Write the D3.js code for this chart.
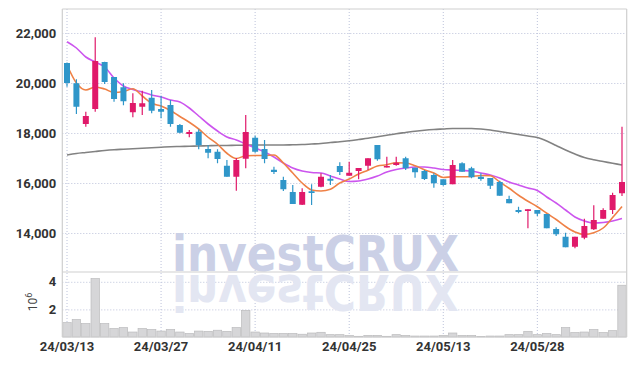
<!DOCTYPE html>
<html>
<head>
<meta charset="utf-8">
<script src="https://cdn.jsdelivr.net/npm/d3@7"></script>
<style>
  html, body { margin: 0; padding: 0; background: #fff; }
  svg { display: block; }
</style>
</head>
<body>
<div id="chart"></div>
<script>
const dates = [
  "24/03/13","24/03/14","24/03/15","24/03/18","24/03/19","24/03/20","24/03/21","24/03/22","24/03/25","24/03/26",
  "24/03/27","24/03/28","24/03/29","24/04/01","24/04/02","24/04/03","24/04/04","24/04/05","24/04/08","24/04/09",
  "24/04/11","24/04/12","24/04/15","24/04/16","24/04/17","24/04/18","24/04/19","24/04/22","24/04/23","24/04/24",
  "24/04/25","24/04/26","24/04/29","24/04/30","24/05/02","24/05/03","24/05/07","24/05/08","24/05/09","24/05/10",
  "24/05/13","24/05/14","24/05/16","24/05/17","24/05/20","24/05/21","24/05/22","24/05/23","24/05/24","24/05/27",
  "24/05/28","24/05/29","24/05/30","24/05/31","24/06/03","24/06/04","24/06/05","24/06/07","24/06/10","24/06/11"
];
const opens = [
  20800,19990,18360,18960,20840,20240,19830,18830,19050,19410,
  18960,19120,18320,17960,18050,17360,17250,16690,16250,16970,
  17810,17360,16530,16120,15640,15130,15670,15850,16170,16680,
  16290,16480,16690,17520,16640,16720,16990,16610,16480,16320,
  16150,15950,16790,16590,16250,16200,16040,15360,14920,14880,
  14920,14760,14160,13850,13450,13810,14150,14570,14920,15590
];
const highs = [
  20820,20150,18850,21830,20850,20240,19990,19590,19690,19720,
  19490,19320,18360,18120,18150,17520,17350,16920,17000,18720,
  17890,17720,16650,16250,15920,15790,15950,16390,16320,16830,
  16850,16600,16990,17520,17050,17050,17050,16610,16520,16390,
  16150,16920,16830,16650,16390,16200,16090,15490,15050,14950,
  14920,14760,14230,14010,13850,14570,15110,14990,15610,18250
];
const lows = [
  19850,18760,18250,18850,19960,19250,19110,18630,18720,18790,
  18590,18250,17990,17830,17350,16990,16790,16250,15690,16590,
  17210,16790,16360,15680,15160,15120,15120,15830,15920,16320,
  16290,16150,16520,16890,16620,16690,16520,16210,16120,15810,
  15890,15950,16450,16190,16090,15760,15490,15190,14790,14190,
  14680,14190,13880,13430,13390,13750,14120,14570,14760,15480
];
const closes = [
  20000,19050,18680,20880,20040,19360,19270,19200,19190,18890,
  18850,18360,18010,18040,17510,17210,16960,16250,16920,18040,
  17250,16960,16440,15750,15160,15640,15600,16250,16090,16440,
  16410,16600,16990,16950,16680,16810,16590,16430,16160,15990,
  15920,16720,16450,16230,16160,15890,15490,15190,14840,14950,
  14770,14190,13950,13430,13850,14280,14520,14920,15520,16040
];
// volume, millions of shares
const volumes = [
  1.04,1.26,0.97,4.23,0.97,0.61,0.68,0.36,0.61,0.54,
  0.43,0.54,0.36,0.25,0.43,0.41,0.49,0.41,0.68,1.93,
  0.36,0.29,0.25,0.25,0.25,0.20,0.29,0.34,0.17,0.17,
  0.10,0.05,0.12,0.12,0.05,0.17,0.12,0.07,0.07,0.07,
  0.12,0.29,0.12,0.12,0.04,0.07,0.07,0.17,0.17,0.41,
  0.17,0.25,0.17,0.68,0.32,0.36,0.54,0.32,0.46,3.75
];
const ma5 = [
  20720,20000,19720,19840,19760,19620,19660,19770,19480,19190,
  19080,18900,18660,18430,18160,17830,17550,17190,16980,17090,
  17100,17100,17120,16800,16400,16000,15720,15680,15750,16000,
  16160,16360,16510,16680,16730,16810,16800,16690,16530,16400,
  16220,16250,16250,16260,16300,16290,16040,15790,15510,15270,
  15050,14790,14540,14260,14040,13940,14010,14200,14620,15060
];
const ma20 = [
  21650,21400,21040,20840,20640,20200,19880,19740,19640,19520,
  19440,19320,19240,19000,18680,18360,18080,17840,17720,17560,
  17400,17240,17040,16800,16600,16480,16420,16400,16280,16160,
  16060,16080,16160,16280,16440,16540,16600,16640,16640,16600,
  16540,16520,16500,16480,16400,16320,16200,16040,15920,15800,
  15700,15440,15200,14920,14640,14480,14400,14420,14480,14580
];
const ma60 = [
  17120,17180,17220,17260,17300,17330,17350,17370,17390,17410,
  17430,17450,17460,17470,17480,17490,17500,17500,17510,17510,
  17520,17520,17520,17520,17530,17540,17560,17580,17620,17650,
  17690,17740,17790,17850,17910,17970,18020,18070,18110,18140,
  18160,18180,18180,18180,18160,18120,18060,18000,17940,17880,
  17820,17680,17500,17320,17160,17020,16930,16860,16790,16720
];
const priceTicks = [14000, 16000, 18000, 20000, 22000];
const volumeTicks = [2, 4];
const dateTicks = ["24/03/13","24/03/27","24/04/11","24/04/25","24/05/13","24/05/28"];

const width = 635, height = 366;
const plotLeft = 62.3, plotRight = 626.7, plotTop = 9, plotSplit = 272, plotBottom = 337;
const upColor = "#e0196a", downColor = "#2f96c9";
const font = "Roboto, 'DejaVu Sans', sans-serif";

const svg = d3.select("#chart").append("svg")
    .attr("width", width)
    .attr("height", height);

const x = d3.scaleBand().domain(dates).range([plotLeft, plotRight]);
const y = d3.scaleLinear().domain([12440, 22960]).range([plotSplit, plotTop]);
const yv = d3.scaleLinear().domain([0, 4.71]).range([plotBottom, plotSplit]);

const bw = x.bandwidth();
const cx = i => x(dates[i]) + bw / 2;

function styleGrid(g) {
    g.select(".domain").remove();
    g.selectAll(".tick line")
        .attr("stroke", "#bcc2da")
        .attr("stroke-dasharray", "1,2");
    g.selectAll(".tick text")
        .attr("fill", "#333")
        .style("font-family", font)
        .style("font-weight", "bold")
        .style("font-size", "13px");
}

// vertical grid + date labels
svg.append("g")
    .attr("transform", "translate(0," + plotBottom + ")")
    .call(d3.axisBottom(x).tickValues(dateTicks).tickSize(-(plotBottom - plotTop)).tickPadding(5))
    .call(styleGrid);

// price grid + labels
svg.append("g")
    .attr("transform", "translate(" + plotLeft + ",0)")
    .call(d3.axisLeft(y).tickValues(priceTicks).tickFormat(d3.format(",")).tickSize(-(plotRight - plotLeft)).tickPadding(6))
    .call(styleGrid);

// volume grid + labels
svg.append("g")
    .attr("transform", "translate(" + plotLeft + ",0)")
    .call(d3.axisLeft(yv).tickValues(volumeTicks).tickFormat(d3.format("d")).tickSize(-(plotRight - plotLeft)).tickPadding(6))
    .call(styleGrid);

// watermark and its reflection
const mark = svg.append("g").style("font-family", "'DejaVu Sans', sans-serif")
    .style("font-weight", "bold").style("font-size", "50px");
mark.append("text")
    .attr("x", 172).attr("y", 271)
    .attr("textLength", 287).attr("lengthAdjust", "spacingAndGlyphs")
    .attr("fill", "#cbd0e6")
    .text("investCRUX");
mark.append("text")
    .attr("x", 172).attr("y", 271)
    .attr("transform", "translate(0,546) scale(1,-1)")
    .attr("textLength", 287).attr("lengthAdjust", "spacingAndGlyphs")
    .attr("fill", "#e3e6f2")
    .text("investCRUX");

// volume bars
svg.append("g")
    .selectAll("rect")
    .data(volumes)
    .enter()
    .append("rect")
    .attr("x", (d, i) => x(dates[i]) + 0.5)
    .attr("width", bw - 1)
    .attr("y", d => yv(d))
    .attr("height", d => plotBottom - yv(d))
    .attr("fill", "#d6d6d8")
    .attr("stroke", "#bbbbbd")
    .attr("stroke-width", 0.7);

// frame
const frame = svg.append("g").attr("stroke", "#cfcfcf").attr("stroke-width", 1.2);
frame.append("line").attr("x1", plotLeft).attr("x2", plotRight).attr("y1", plotTop).attr("y2", plotTop);
frame.append("line").attr("x1", plotLeft).attr("x2", plotRight).attr("y1", plotSplit).attr("y2", plotSplit);
frame.append("line").attr("x1", plotLeft).attr("x2", plotRight).attr("y1", plotBottom).attr("y2", plotBottom);
frame.append("line").attr("x1", plotLeft).attr("x2", plotLeft).attr("y1", plotTop).attr("y2", plotBottom);
frame.append("line").attr("x1", plotRight).attr("x2", plotRight).attr("y1", plotTop).attr("y2", plotBottom);

// 10^6 unit label
const unit = svg.append("text")
    .attr("transform", "translate(37,302) rotate(-90)")
    .attr("text-anchor", "middle")
    .attr("fill", "#444")
    .style("font-family", font)
    .style("font-size", "12px");
unit.append("tspan").text("10");
unit.append("tspan").attr("dy", -5).style("font-size", "9px").text("6");

// moving averages
const maLine = d3.line()
    .x((d, i) => cx(i))
    .y(d => y(d))
    .curve(d3.curveMonotoneX);

[[ma60, "#828282"], [ma20, "#cc55ee"], [ma5, "#ef8146"]].forEach(([vals, col]) => {
    svg.append("path")
        .attr("d", maLine(vals))
        .attr("fill", "none")
        .attr("stroke", col)
        .attr("stroke-width", 1.6);
});

// candles
const candles = svg.append("g")
    .selectAll("g")
    .data(dates)
    .enter()
    .append("g")
    .attr("fill", (d, i) => closes[i] >= opens[i] ? upColor : downColor)
    .attr("stroke", (d, i) => closes[i] >= opens[i] ? upColor : downColor);

candles.append("line")
    .attr("x1", (d, i) => cx(i)).attr("x2", (d, i) => cx(i))
    .attr("y1", (d, i) => y(highs[i]))
    .attr("y2", (d, i) => y(lows[i]))
    .attr("stroke-width", 1.2);

candles.append("rect")
    .attr("x", (d, i) => cx(i) - 3)
    .attr("width", 6)
    .attr("y", (d, i) => y(Math.max(opens[i], closes[i])))
    .attr("height", (d, i) => Math.max(1.5, Math.abs(y(opens[i]) - y(closes[i]))))
    .attr("stroke", "none");
</script>
</body>
</html>
